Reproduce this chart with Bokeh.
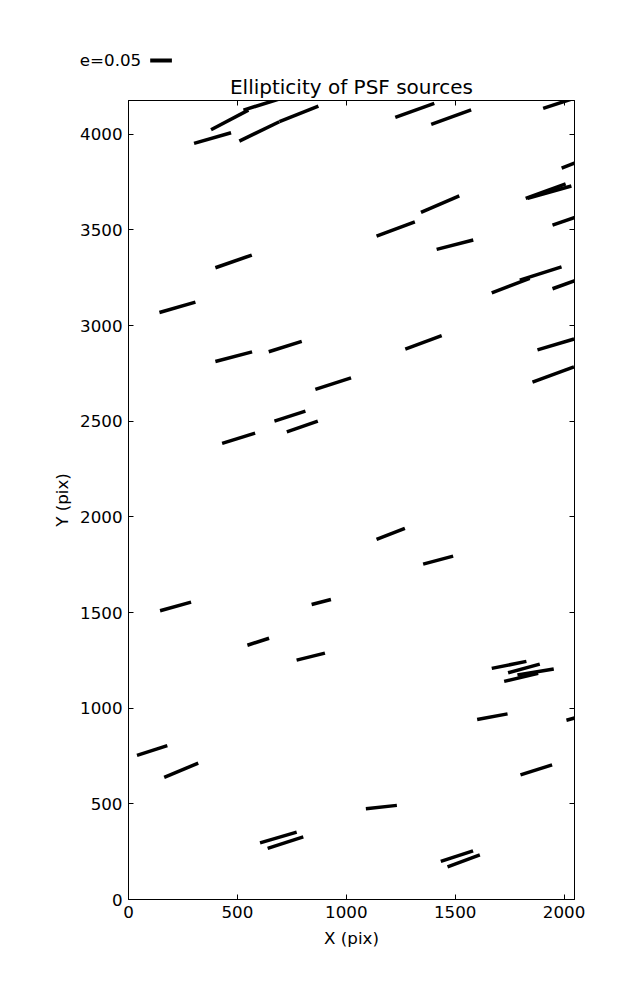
import numpy as np
from bokeh.plotting import figure
from bokeh.layouts import column, row
from bokeh.models import (Range1d, LinearAxis, FixedTicker,
                          CustomJSTickFormatter, ColumnDataSource)
from bokeh.core.properties import value
from bokeh.embed import file_html
from bokeh.resources import INLINE

# ---- data: star position (pix), ellipticity, position angle (deg) ----
x_pix = [301, 379, 528, 509, 693, 1225, 1390, 1904, 1989, 1824, 1833,
         1947, 1139, 1343, 1415, 399, 142, 1947, 1797, 1668, 399, 644,
         1271, 1878, 858, 1855, 670, 727, 430, 1139, 1353, 145, 841, 546,
         772, 1668, 1743, 1786, 1725, 1601, 2011, 39, 164, 1800, 1090,
         604, 639, 1434, 1465]
y_pix = [3952, 4023, 4126, 3964, 4065, 4088, 4051, 4135, 3823, 3664, 3665,
         3525, 3467, 3591, 3398, 3302, 3068, 3192, 3237, 3171, 2812, 2863,
         2877, 2873, 2666, 2704, 2500, 2444, 2384, 1882, 1753, 1509, 1542,
         1329, 1251, 1208, 1185, 1173, 1140, 941, 937, 753, 638, 651, 474,
         296, 267, 199, 170]
ellip = [0.0887, 0.0972, 0.095, 0.1023, 0.0968, 0.0955, 0.098, 0.092, 0.09,
         0.098, 0.1046, 0.09, 0.0942, 0.0962, 0.0870, 0.0888, 0.0863, 0.09,
         0.1008, 0.0936, 0.0874, 0.0797, 0.0893, 0.088, 0.0865, 0.102,
         0.0751, 0.0755, 0.0796, 0.070, 0.0715, 0.0742, 0.0459, 0.0525,
         0.0672, 0.0815, 0.0757, 0.0848, 0.0805, 0.0712, 0.07, 0.0734,
         0.085, 0.0764, 0.0719, 0.088, 0.0863, 0.0783, 0.0794]
angle_deg = [16.0, 27.8, 17.2, 25.8, 21.9, 19.7, 20.1, 18.0, 21.4, 20.1,
             15.7, 18.9, 20.5, 23.4, 14.3, 19.2, 16.0, 19.9, 17.7, 20.8,
             14.7, 17.5, 20.1, 16.4, 18.0, 20.3, 17.9, 19.0, 17.3, 21.2,
             14.9, 15.7, 14.5, 17.9, 13.9, 11.4, 15.3, 9.4, 13.2, 10.4, 15.0,
             17.9, 22.8, 17.6, 6.3, 16.3, 18.0, 18.2, 20.4]

title_text = "Ellipticity of PSF sources"
key_e = 0.05
key_label = "e=0.05"
x_ticks = [0, 500, 1000, 1500, 2000]
y_ticks = [0, 500, 1000, 1500, 2000, 2500, 3000, 3500, 4000]
XMAX, YMAX = 2048, 4176

# ---- layout ----
LEFT, RIGHT, TOP, BOTTOM = 128, 55, 100, 93
FW, FH = 446, 799
W = LEFT + FW + RIGHT
PX_PER_E = 434.0            # quiver scale: screen px per unit ellipticity
sx = FW / XMAX
sy = FH / YMAX
FONT = "DejaVu Sans"
FS = "16.7px"
FS_TITLE = "20px"

# header strip (title + key) drawn in pixel coordinates (y measured up)
hdr = figure(frame_width=W, frame_height=TOP,
             min_border=0, min_border_left=0, min_border_right=0,
             min_border_top=0, min_border_bottom=0,
             x_range=Range1d(0, W), y_range=Range1d(0, TOP),
             x_axis_location=None, y_axis_location=None,
             output_backend="svg", toolbar_location=None)
hdr.grid.visible = False
hdr.outline_line_color = None
hdr.text(x=[LEFT + FW / 2], y=[TOP - 86.5], text=[title_text],
         text_font=value(FONT), text_font_size=value(FS_TITLE),
         text_color="black", text_align="center", text_baseline="middle")
hdr.text(x=[LEFT + 12.7], y=[TOP - 59.5], text=[key_label],
         text_font=value(FONT), text_font_size=value(FS), text_color="black",
         text_align="right", text_baseline="middle")
kx0 = LEFT + 21.7
hdr.segment(x0=[kx0], y0=[TOP - 60], x1=[kx0 + key_e * PX_PER_E], y1=[TOP - 60],
            line_color="black", line_width=4, line_cap="butt")

p = figure(frame_width=FW, frame_height=FH,
           min_border_left=LEFT, min_border_right=RIGHT,
           min_border_top=0, min_border_bottom=BOTTOM,
           x_range=Range1d(0, XMAX), y_range=Range1d(0, YMAX),
           output_backend="svg", toolbar_location=None,
           x_axis_label="X (pix)", y_axis_label="Y (pix)")
p.grid.visible = False
p.outline_line_color = "black"
p.outline_line_width = 1

# quiver sticks (pivot at tail)
xa = np.array(x_pix, float)
ya = np.array(y_pix, float)
ea = np.array(ellip, float)
th = np.deg2rad(np.array(angle_deg, float))
L = ea * PX_PER_E
src = ColumnDataSource(dict(x0=xa, y0=ya,
                            x1=xa + L * np.cos(th) / sx,
                            y1=ya + L * np.sin(th) / sy))
p.segment("x0", "y0", "x1", "y1", source=src, line_color="black",
          line_width=3.5, line_cap="butt")

def style_axis(ax, ticks, labels=True):
    ax.ticker = FixedTicker(ticks=ticks)
    ax.major_tick_in = 5
    ax.major_tick_out = 0
    ax.minor_tick_in = 0
    ax.minor_tick_out = 0
    ax.axis_line_color = "black"
    ax.major_tick_line_color = "black"
    ax.major_label_text_font = FONT
    ax.major_label_text_font_size = FS
    ax.major_label_text_color = "black"
    ax.major_label_standoff = 6
    ax.axis_label_text_font = FONT
    ax.axis_label_text_font_size = FS
    ax.axis_label_text_font_style = "normal"
    ax.axis_label_text_color = "black"
    if not labels:
        ax.formatter = CustomJSTickFormatter(code="return ''")
        ax.major_label_text_font_size = "0px"
        ax.major_label_standoff = 0

style_axis(p.xaxis[0], x_ticks)
style_axis(p.yaxis[0], y_ticks)
p.xaxis[0].axis_label_standoff = 7
p.yaxis[0].axis_label_standoff = 5

top = LinearAxis()
right = LinearAxis()
style_axis(top, x_ticks, labels=False)
style_axis(right, y_ticks, labels=False)
p.add_layout(top, "above")
p.add_layout(right, "right")

layout = column(row(hdr), p, spacing=0)
open("out.html", "w").write(file_html(layout, INLINE))
